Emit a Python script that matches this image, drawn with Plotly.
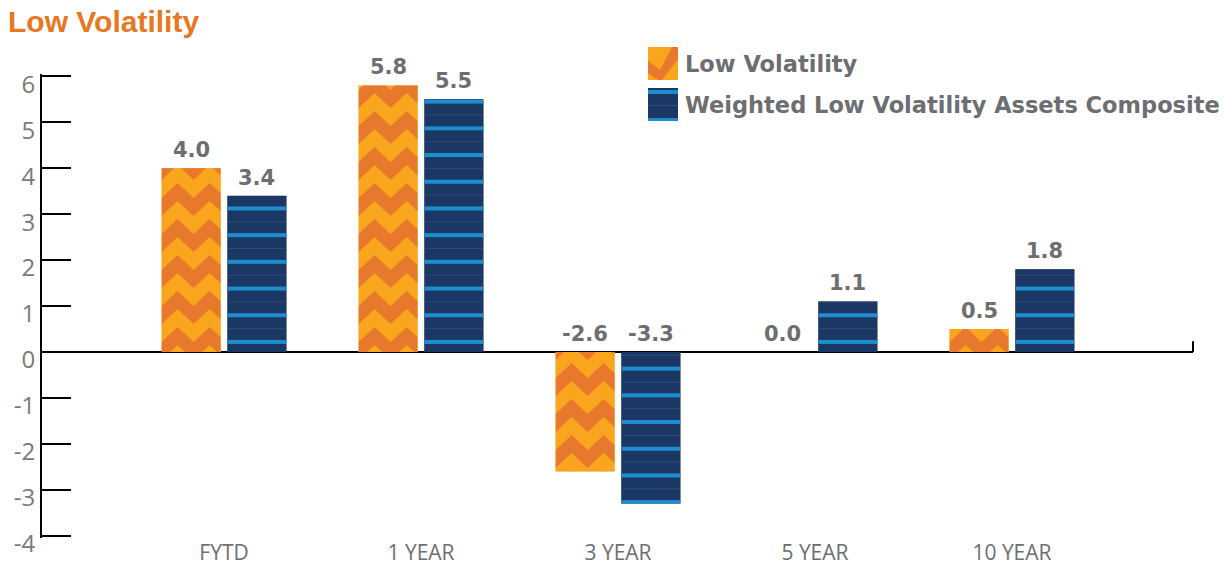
import base64
import plotly.graph_objects as go

# ---- data -------------------------------------------------------------
categories = ["FYTD", "1 YEAR", "3 YEAR", "5 YEAR", "10 YEAR"]
low_vol = [4.0, 5.8, -2.6, 0.0, 0.5]
composite = [3.4, 5.5, -3.3, 1.1, 1.8]
series_names = ["Low Volatility", "Weighted Low Volatility Assets Composite"]
y_ticks = [-4, -3, -2, -1, 0, 1, 2, 3, 4, 5, 6]

# ---- style ------------------------------------------------------------
W, H = 1229, 565
M = dict(l=42, r=36, t=74, b=27)
X_RANGE = [-0.924, 4.919]
Y_RANGE = [-4.05, 6.05]   # a little headroom so the end ticks are kept
BAR_W = 0.30
OFFSETS = [-0.317, 0.017]

ORANGE_LIGHT = "#F9A51E"
ORANGE_DARK = "#E8792C"
NAVY = "#1B3864"
STRIPE = "#1E8DCF"
FAINT = "#2C4C7C"
GRAY_TEXT = "#6D6E71"
GRAY_TICK = "#7A7A7A"
TITLE_ORANGE = "#E87722"

plot_w = W - M["l"] - M["r"]
plot_h = H - M["t"] - M["b"]
px_per_y = plot_h / (Y_RANGE[1] - Y_RANGE[0])
px_per_x = plot_w / (X_RANGE[1] - X_RANGE[0])


def to_uri(svg):
    return "data:image/svg+xml;base64," + base64.b64encode(svg.encode()).decode()


def chevron_svg(v):
    """Zigzag texture for a bar running from 0 to v (anchored at the zero line)."""
    bw = round(BAR_W * px_per_x)
    bh = abs(v) * px_per_y
    u_top = max(v, 0) * px_per_y
    u_bot = u_top - bh
    P, T, A, c, per = 36.0, 18.0, 15.0, -8.0, 32.0

    def tri(x):
        d = x % per
        return A * (1 - abs(d - per / 2) / (per / 2))

    xs = [0, 16, 32, 48, bw]
    parts = [f'<rect x="0" y="0" width="{bw}" height="{bh:.2f}" fill="{ORANGE_LIGHT}"/>']
    k0 = int((u_bot - c - A - T) // P) - 1
    k1 = int((u_top - c) // P) + 1
    for k in range(k0, k1 + 1):
        low = [(x, u_top - (c + k * P + tri(x))) for x in xs]
        up = [(x, u_top - (c + k * P + tri(x) + T)) for x in reversed(xs)]
        pts = " ".join(f"{x:.2f},{y:.2f}" for x, y in low + up)
        parts.append(f'<polygon points="{pts}" fill="{ORANGE_DARK}"/>')
    return (f'<svg xmlns="http://www.w3.org/2000/svg" width="{bw}" height="{bh:.2f}" '
            f'viewBox="0 0 {bw} {bh:.2f}" preserveAspectRatio="none">{"".join(parts)}</svg>')


def stripe_svg(v):
    """Horizontal stripe texture for a bar running from 0 to v."""
    bw = round(BAR_W * px_per_x)
    bh = abs(v) * px_per_y
    u_top = max(v, 0) * px_per_y
    u_bot = u_top - bh
    P, first, thick = 26.7, 10.0, 4.0
    parts = [f'<rect x="0" y="0" width="{bw}" height="{bh:.2f}" fill="{NAVY}"/>']
    k0 = int((u_bot - first) // P) - 1
    k1 = int((u_top - first) // P) + 1
    for k in range(k0, k1 + 1):
        u = first + k * P
        y = u_top - u
        parts.append(f'<rect x="0" y="{y - thick / 2:.2f}" width="{bw}" height="{thick}" fill="{STRIPE}"/>')
        yf = u_top - (u + P / 2)
        parts.append(f'<rect x="0" y="{yf - 0.5:.2f}" width="{bw}" height="1" fill="{FAINT}"/>')
    return (f'<svg xmlns="http://www.w3.org/2000/svg" width="{bw}" height="{bh:.2f}" '
            f'viewBox="0 0 {bw} {bh:.2f}" preserveAspectRatio="none">{"".join(parts)}</svg>')


LEGEND_ICON_ORANGE = (
    f'<svg xmlns="http://www.w3.org/2000/svg" width="30" height="33" viewBox="0 0 30 33" preserveAspectRatio="none">'
    f'<rect width="30" height="33" fill="{ORANGE_LIGHT}"/>'
    f'<polygon points="0,14 12,23 24,0 30,0 30,12 14,33 10,33 0,26" fill="{ORANGE_DARK}"/></svg>'
)
LEGEND_ICON_BLUE = (
    f'<svg xmlns="http://www.w3.org/2000/svg" width="30" height="33" viewBox="0 0 30 33" preserveAspectRatio="none">'
    f'<rect width="30" height="33" fill="{NAVY}"/>'
    f'<rect y="2" width="30" height="4" fill="{STRIPE}"/>'
    f'<rect y="17" width="30" height="1" fill="{FAINT}"/>'
    f'<rect y="30" width="30" height="3" fill="{STRIPE}"/></svg>'
)


def px_to_paper(px, py):
    return (px - M["l"]) / plot_w, 1 - (py - M["t"]) / plot_h


x_idx = list(range(len(categories)))

fig = go.Figure()
fig.add_trace(go.Bar(
    x=x_idx, y=low_vol, name=series_names[0], width=BAR_W, offset=OFFSETS[0],
    marker=dict(color=ORANGE_LIGHT, line=dict(width=0)), showlegend=False,
))
fig.add_trace(go.Bar(
    x=x_idx, y=composite, name=series_names[1], width=BAR_W, offset=OFFSETS[1],
    marker=dict(color=NAVY, line=dict(width=0)), showlegend=False,
))

images = []
annotations = []
for values, off, maker in [(low_vol, OFFSETS[0], chevron_svg), (composite, OFFSETS[1], stripe_svg)]:
    for i, v in zip(x_idx, values):
        if v != 0:
            images.append(dict(
                source=to_uri(maker(v)), xref="x", yref="y",
                x=i + off, y=max(v, 0), sizex=BAR_W, sizey=abs(v),
                xanchor="left", yanchor="top", sizing="stretch", layer="above",
            ))
        annotations.append(dict(
            x=i + off + BAR_W / 2, y=max(v, 0), xref="x", yref="y",
            text=f"{v:.1f}", showarrow=False, yanchor="middle", yshift=18,
            font=dict(family="DejaVu Sans", size=21, color=GRAY_TEXT, weight="bold"),
        ))

# legend drawn as icons + labels
for (icon, label, top) in [(LEGEND_ICON_ORANGE, series_names[0], 47),
                           (LEGEND_ICON_BLUE, series_names[1], 88)]:
    ix, iy = px_to_paper(648, top)
    images.append(dict(
        source=to_uri(icon), xref="paper", yref="paper", x=ix, y=iy,
        sizex=30 / plot_w, sizey=33 / plot_h, xanchor="left", yanchor="top",
        sizing="stretch", layer="above",
    ))
    tx, ty = px_to_paper(683, top + 17)
    annotations.append(dict(
        x=tx, y=ty, xref="paper", yref="paper", text=label, showarrow=False,
        xanchor="left", yanchor="middle",
        font=dict(family="DejaVu Sans", size=22.5, color=GRAY_TEXT, weight="bold"),
    ))

fig.update_layout(
    width=W, height=H, margin=M,
    paper_bgcolor="white", plot_bgcolor="white",
    barmode="overlay",
    title=dict(
        text="Low Volatility", x=8 / W, xref="container", xanchor="left",
        y=1 - 21 / H, yref="container", yanchor="middle",
        font=dict(family="Liberation Sans", size=30, color=TITLE_ORANGE, weight="bold"),
    ),
    xaxis=dict(
        range=X_RANGE, tickmode="array", tickvals=x_idx, ticktext=categories,
        showline=False, showgrid=False, zeroline=False, ticks="", automargin=False,
        tickfont=dict(family="Open Sans", size=21, color=GRAY_TEXT),
    ),
    yaxis=dict(
        range=Y_RANGE, tickmode="array", tickvals=y_ticks,
        ticktext=[str(t) for t in y_ticks], automargin=False,
        showline=True, linecolor="black", linewidth=2,
        ticks="inside", ticklen=29, tickwidth=2, tickcolor="black",
        showgrid=False, zeroline=True, zerolinecolor="black", zerolinewidth=2,
        tickfont=dict(family="Open Sans", size=24, color=GRAY_TICK),
        ticklabelshift=8, layer="above traces",
    ),
    images=images,
    annotations=annotations,
    shapes=[dict(type="line", xref="paper", yref="y", x0=1, x1=1, y0=0, y1=0.23,
                 line=dict(color="black", width=2))],
)

fig.write_html("out.html")
